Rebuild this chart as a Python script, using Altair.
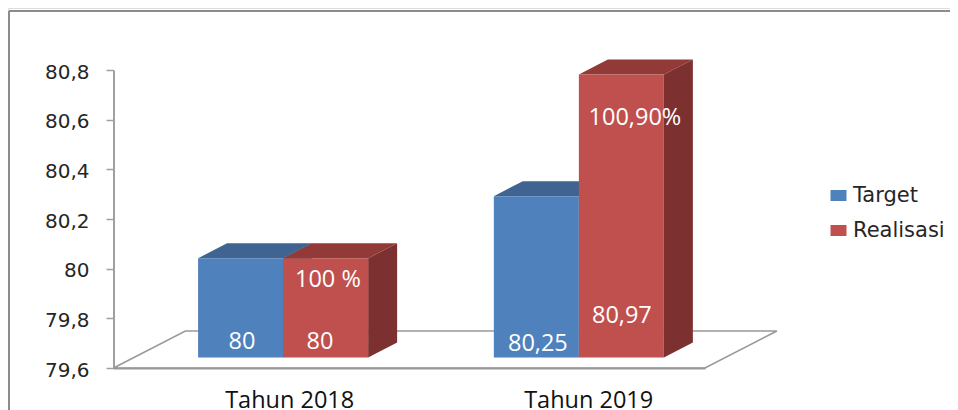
import altair as alt
import pandas as pd

categories = ["Tahun 2018", "Tahun 2019"]
series = ["Target", "Realisasi"]
target_values = [80.0, 80.25]
# heights as drawn in the picture (the 2019 bar is drawn lower than its printed label)
realisasi_values = [80.0, 80.74]
y_ticks = [79.6, 79.8, 80.0, 80.2, 80.4, 80.6, 80.8]
label_texts = ["80", "80", "100 %", "80,25", "80,97", "100,90%"]
label_cat = [0.4345, 0.698, 0.725, 1.435, 1.719, 1.763]
label_val = [79.705, 79.705, 79.953, 79.697, 79.809, 80.607]
axis_label_pos = [0.594, 1.605]

BLUE, RED = "#4F81BD", "#C0504D"
TOP = {"Target": "#3F6491", "Realisasi": "#923A38"}
SIDE = {"Target": "#3A5C85", "Realisasi": "#7C3130"}
LIFT = 0.042
BAR_W = 0.2875
OFFSET = 0.286
DX, DV = 0.098, 0.0604
FLOOR_DX, FLOOR_DV = 0.243, 0.149

xs = alt.Scale(domain=[0, 2], range=[105.5, 697], nice=False, zero=False)
ys = alt.Scale(domain=[79.6, 80.8], range=[360, 62], nice=False, zero=False)

front, tops, sides = [], [], []
base = 79.6 + LIFT
for i, c in enumerate(categories):
    for j, (s, vals) in enumerate(zip(series, [target_values, realisasi_values])):
        v = vals[i] + LIFT
        l = i + OFFSET + j * BAR_W
        r = l + BAR_W
        key = f"{s}{i}"
        front.append(dict(series=s, x=l, x2=r, y=base, y2=v, order=j))
        tops += [dict(series=s, key=key, x=l, x2=r, y=v),
                 dict(series=s, key=key, x=l + DX, x2=r + DX, y=v + DV)]
        sides += [dict(series=s, key=key, x=r, y=base, y2=v),
                  dict(series=s, key=key, x=r + DX, y=base + DV, y2=v + DV)]
front, tops, sides = map(pd.DataFrame, (front, tops, sides))

floor = pd.DataFrame({
    "x": [0, FLOOR_DX, 2 + FLOOR_DX, 2, 0],
    "y": [79.6, 79.6 + FLOOR_DV, 79.6 + FLOOR_DV, 79.6, 79.6],
    "o": [0, 1, 2, 3, 4],
})
labels = pd.DataFrame({"t": label_texts, "x": label_cat, "y": label_val})

y_expr = "datum.value == 80 ? '80' : replace(format(datum.value, '.1f'), '.', ',')"
x_expr = f"datum.value < 1 ? '{categories[0]}' : '{categories[1]}'"

x_axis = alt.Axis(
    values=axis_label_pos, labelExpr=x_expr, orient="bottom", offset=-42,
    domain=True, domainColor="#999999", domainWidth=2, ticks=False, grid=False,
    labelFont="Open Sans", labelFontSize=23.5, labelColor="#111111", labelPadding=20,
    labelOverlap=False, labelFlush=False, title=None)
y_axis = alt.Axis(
    values=y_ticks, labelExpr=y_expr, orient="left", offset=-105.5,
    domain=True, domainColor="#A0A0A0", domainWidth=2, ticks=True, tickColor="#A0A0A0",
    tickWidth=1.5, tickSize=7.5, grid=False, labelFont="DejaVu Sans", labelFontSize=20,
    labelColor="#262626", labelPadding=17, labelOffset=2, labelOverlap=False,
    labelFlush=False, title=None)


def x_(f="x"):
    return alt.X(f"{f}:Q", scale=xs, axis=x_axis, stack=None, title=None)


def y_(f="y"):
    return alt.Y(f"{f}:Q", scale=ys, axis=y_axis, stack=None, title=None)


floor_layer = alt.Chart(floor).mark_line(color="#999999", strokeWidth=1.6).encode(
    x=x_(), y=y_(), order="o:Q")


def top_layer(s):
    return alt.Chart(tops[tops.series == s]).mark_area(orient="horizontal", color=TOP[s]).encode(
        x=x_(), x2="x2:Q", y=y_(), detail="key:N")


def side_layer(s):
    return alt.Chart(sides[sides.series == s]).mark_area(orient="vertical", color=SIDE[s]).encode(
        x=x_(), y=y_(), y2="y2:Q", detail="key:N")


front_layer = alt.Chart(front).mark_rect().encode(
    x=x_(), x2="x2:Q", y=y_(), y2="y2:Q",
    color=alt.Color("series:N", scale=alt.Scale(domain=series, range=[BLUE, RED]),
                    legend=alt.Legend(
                        title=None, orient="none", legendX=820, legendY=177,
                        symbolType="M-1,-0.69H1V0.69H-1Z", symbolSize=256, symbolStrokeWidth=0,
                        labelFont="DejaVu Sans", labelFontSize=21, labelColor="#262626",
                        labelOffset=4, rowPadding=13)),
)

text_layer = alt.Chart(labels).mark_text(
    font="Open Sans", fontSize=23.5, color="white", align="center", baseline="middle"
).encode(x=x_(), y=y_(), text="t:N")

border_top = alt.Chart(pd.DataFrame({"a": [0]})).mark_rule(color="#8C8C8C", strokeWidth=2).encode(
    x=alt.value(1), x2=alt.value(942), y=alt.value(3))
border_left = alt.Chart(pd.DataFrame({"a": [0]})).mark_rule(color="#8C8C8C", strokeWidth=2).encode(
    x=alt.value(1), y=alt.value(3), y2=alt.value(402))

chart = alt.layer(
    floor_layer,
    top_layer("Target"), side_layer("Target"),
    top_layer("Realisasi"), side_layer("Realisasi"),
    front_layer, text_layer, border_top, border_left,
).properties(
    width=942, height=402, padding=0,
    autosize=alt.AutoSizeParams(type="none"),
).configure_view(stroke=None).configure(background="white")

chart.save("out.html", embed_options={"renderer": "svg", "actions": False})
